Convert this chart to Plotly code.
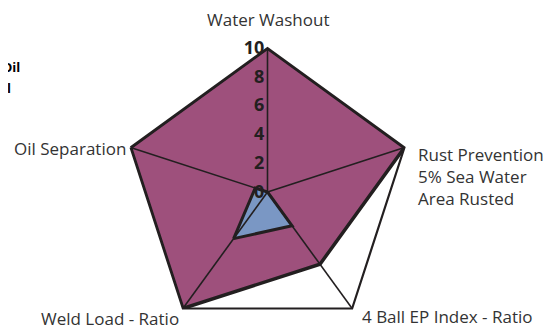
import plotly.graph_objects as go

# axes of the radar, clockwise from the top
categories = [
    "Water Washout",
    "Rust Prevention<br>5% Sea Water<br>Area Rusted",
    "4 Ball EP Index - Ratio",
    "Weld Load - Ratio",
    "Oil Separation",
]
product_a = [10, 10, 6.2, 10, 10]
product_b = [0, 0, 2.9, 4.0, 0.9]
radial_ticks = [0, 2, 4, 6, 8, 10]
legend_tail = ["Oil", "l"]

magenta = "rgb(158, 80, 124)"
blue = "rgb(122, 151, 196)"
ink = "#231f20"

W, H = 551, 330
MARGIN = dict(l=0, r=32, t=40, b=2)
PLOT_W = W - MARGIN["l"] - MARGIN["r"]
PLOT_H = H - MARGIN["t"] - MARGIN["b"]


def paper_x(px):
    return (px - MARGIN["l"]) / PLOT_W


def paper_y(py):
    return 1 - (py - MARGIN["t"]) / PLOT_H


def closed(values):
    return values + values[:1]


fig = go.Figure()

fig.add_trace(
    go.Scatterpolar(
        r=closed(product_a),
        theta=closed(categories),
        fill="toself",
        fillcolor=magenta,
        mode="lines",
        line=dict(color=ink, width=3.5),
        hoverinfo="r+theta",
    )
)
fig.add_trace(
    go.Scatterpolar(
        r=closed(product_b),
        theta=closed(categories),
        fill="toself",
        fillcolor=blue,
        mode="lines",
        line=dict(color=ink, width=3),
        hoverinfo="r+theta",
    )
)

# spokes drawn over the fills
spoke_r, spoke_theta = [], []
for cat in categories:
    spoke_r += [0, radial_ticks[-1], None]
    spoke_theta += [cat, cat, None]
fig.add_trace(
    go.Scatterpolar(
        r=spoke_r,
        theta=spoke_theta,
        mode="lines",
        line=dict(color=ink, width=1.6),
        connectgaps=False,
        hoverinfo="skip",
    )
)

# axis captions, placed like the original (pixel spots in the figure)
captions = [
    (categories[0], 260, 11.5, "center"),
    (categories[1], 408, 168, "left"),
    (categories[2], 352, 308, "left"),
    (categories[3], 173, 310, "right"),
    (categories[4], 120, 140, "right"),
]
for text, x, y, xanchor in captions:
    fig.add_annotation(
        text=text,
        xref="paper",
        yref="paper",
        x=paper_x(x),
        y=paper_y(y),
        xanchor=xanchor,
        yanchor="middle",
        align="left",
        showarrow=False,
        font=dict(family="Open Sans", size=17, color="#333333"),
    )

# legend that is cut off at the left edge
for txt, x, y in zip(legend_tail, [14, 5], [59, 80]):
    fig.add_annotation(
        text=txt,
        xref="paper",
        yref="paper",
        x=paper_x(x),
        y=paper_y(y),
        xanchor="right",
        yanchor="middle",
        showarrow=False,
        font=dict(family="Open Sans", size=13, color="black", weight="bold"),
    )

fig.update_layout(
    width=W,
    height=H,
    autosize=False,
    margin=MARGIN,
    paper_bgcolor="white",
    showlegend=False,
    font=dict(family="Open Sans", color="#333333"),
    polar=dict(
        bgcolor="white",
        gridshape="linear",
        radialaxis=dict(
            range=[0, 10],
            tickvals=radial_ticks,
            angle=90,
            side="counterclockwise",
            tickangle=90,
            showgrid=False,
            showline=False,
            ticks="",
            tickfont=dict(family="Open Sans", size=18, color=ink, weight="bold"),
        ),
        angularaxis=dict(
            categoryorder="array",
            categoryarray=categories,
            direction="clockwise",
            rotation=90,
            showgrid=False,
            showline=True,
            showticklabels=False,
            linecolor=ink,
            linewidth=2.2,
            ticks="",
        ),
    ),
)

fig.write_html("out.html")
